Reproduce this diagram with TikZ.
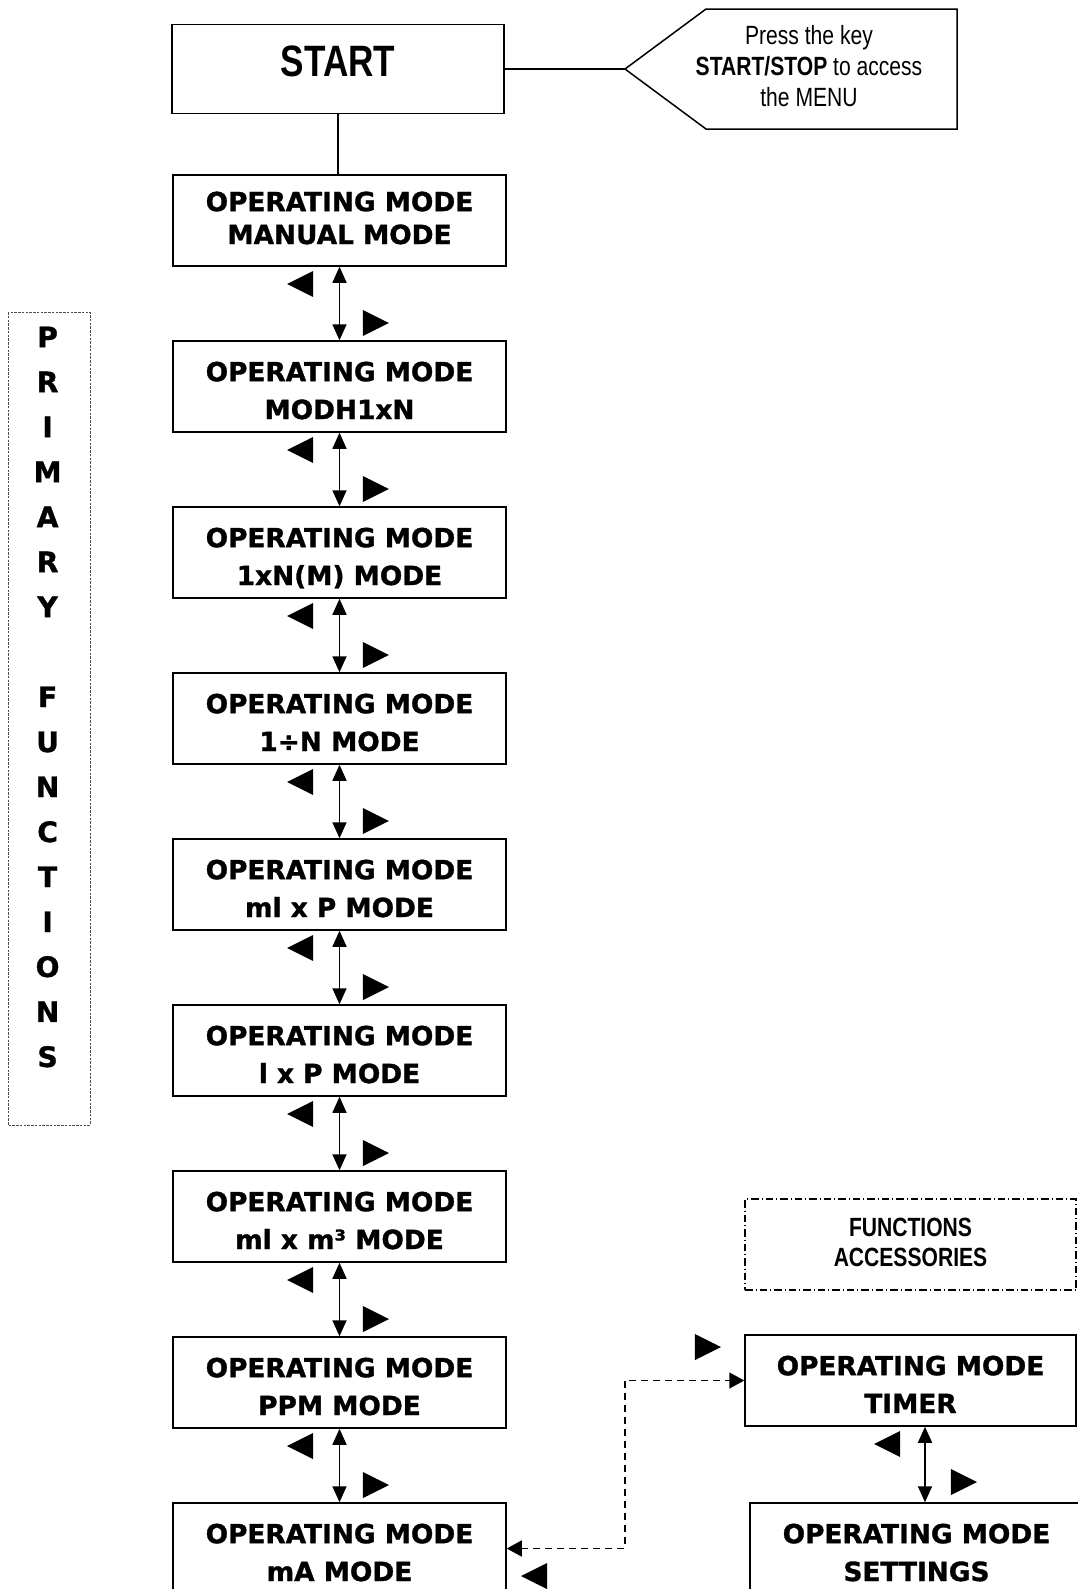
\documentclass[tikz,border=0pt]{standalone}
\usepackage{fontspec}
\usetikzlibrary{shapes.geometric, arrows.meta}

\newfontfamily\blackfont[FakeBold=1.2]{DejaVu Sans}
\newfontfamily\narrowfont[FakeStretch=0.8]{Liberation Sans}

\tikzset{
  modebox/.style={draw, line width=0.3mm, minimum width=66.6mm, minimum height=18.2mm,
    inner sep=0, align=center, text height=13mm, text depth=0mm,
    font=\blackfont\bfseries\fontsize{15}{21.5}\selectfont},
  startbox/.style={draw, line width=0.3mm, minimum width=66.4mm, minimum height=17.8mm,
    inner sep=0, text depth=3.2mm, font=\narrowfont\bfseries\fontsize{25}{30}\selectfont},
  accbox/.style={draw, line width=0.3mm, dash pattern=on 1.5mm off 0.6mm on 0.2mm off 0.6mm,
    minimum width=66.2mm, minimum height=18.2mm, inner sep=0, align=center, text depth=1mm,
    font=\narrowfont\bfseries\fontsize{15}{17.2}\selectfont},
  hinttext/.style={align=center, inner sep=0, font=\narrowfont\fontsize{15}{17.4}\selectfont},
  tri right/.style={isosceles triangle, isosceles triangle stretches, fill=black, draw=none,
    inner sep=0, minimum width=5.2mm, minimum height=5.2mm},
  tri left/.style={tri right, shape border rotate=180},
  dblarrow/.style={{Triangle[length=3.2mm, width=2.8mm]}-{Triangle[length=3.2mm, width=2.8mm]},
    line width=0.33mm},
  dashlink/.style={{Triangle[length=3mm, width=3.2mm]}-{Triangle[length=3mm, width=3.2mm]},
    line width=0.3mm, dash pattern=on 1.4mm off 1mm}
}

\begin{document}
\begin{tikzpicture}[x=0.2mm, y=-0.2mm]
  \useasboundingbox (0, 0) rectangle (1078, 1589);
  \clip (0, 0) rectangle (1078, 1589);

  % Start and hint
  \node[startbox] (start) at (338, 69) {START};
  \coordinate (tip) at (625, 69);
  \draw[line width=0.3mm] (tip) -- (706, 9) -- (957, 9) -- (957, 129) -- (706, 129) -- cycle;
  \node[hinttext] (hint) at (809, 66) {Press the key\\\textbf{START/STOP} to access\\the MENU};
  \draw[line width=0.25mm] (start.east) -- (tip);

  % Primary functions
  \draw[line width=0.2mm, black!70, dash pattern=on 0.5mm off 0.25mm] (8, 312) rectangle (90, 1125);
  \node[align=center, inner sep=0, font=\blackfont\bfseries\fontsize{16}{25.6}\selectfont]
    (primary) at (47.6, 697) {P\\R\\I\\M\\A\\R\\Y\\ \\F\\U\\N\\C\\T\\I\\O\\N\\S};

  % Operating modes
  \node[modebox, text height=9.4mm, font=\blackfont\bfseries\fontsize{15}{18.7}\selectfont]
                 (manual)  at (339.5,  220.5) {OPERATING MODE\\MANUAL MODE};
  \node[modebox] (modh)    at (339.5,  386.5) {OPERATING MODE\\MODH1xN};
  \node[modebox] (onexnm)  at (339.5,  552.5) {OPERATING MODE\\1xN(M) MODE};
  \node[modebox] (onedivn) at (339.5,  718.5) {OPERATING MODE\\1÷N MODE};
  \node[modebox] (mlxp)    at (339.5,  884.5) {OPERATING MODE\\ml x P MODE};
  \node[modebox] (lxp)     at (339.5, 1050.5) {OPERATING MODE\\l x P MODE};
  \node[modebox] (mlxm)    at (339.5, 1216.5) {OPERATING MODE\\ml x m³ MODE};
  \node[modebox] (ppm)     at (339.5, 1382.5) {OPERATING MODE\\PPM MODE};
  \node[modebox] (ma)      at (339.5, 1548.5) {OPERATING MODE\\mA MODE};
  \draw[line width=0.25mm] (start.south) -- (start.south |- manual.north);

  % Scrolling between modes
  \draw[dblarrow] (manual.south) -- (modh.north);
  \node[tri left]  (l1) at (305,  284) {};
  \node[tri right] (r1) at (371,  323) {};
  \draw[dblarrow] (modh.south) -- (onexnm.north);
  \node[tri left]  (l2) at (305,  450) {};
  \node[tri right] (r2) at (371,  489) {};
  \draw[dblarrow] (onexnm.south) -- (onedivn.north);
  \node[tri left]  (l3) at (305,  616) {};
  \node[tri right] (r3) at (371,  655) {};
  \draw[dblarrow] (onedivn.south) -- (mlxp.north);
  \node[tri left]  (l4) at (305,  782) {};
  \node[tri right] (r4) at (371,  821) {};
  \draw[dblarrow] (mlxp.south) -- (lxp.north);
  \node[tri left]  (l5) at (305,  948) {};
  \node[tri right] (r5) at (371,  987) {};
  \draw[dblarrow] (lxp.south) -- (mlxm.north);
  \node[tri left]  (l6) at (305, 1114) {};
  \node[tri right] (r6) at (371, 1153) {};
  \draw[dblarrow] (mlxm.south) -- (ppm.north);
  \node[tri left]  (l7) at (305, 1280) {};
  \node[tri right] (r7) at (371, 1319) {};
  \draw[dblarrow] (ppm.south) -- (ma.north);
  \node[tri left]  (l8) at (305, 1446) {};
  \node[tri right] (r8) at (371, 1485) {};

  % Accessory functions
  \node[accbox] (acc) at (910.5, 1244.5) {FUNCTIONS\\ACCESSORIES};
  \node[modebox, minimum width=66.2mm] (timer) at (910.5, 1380.5) {OPERATING MODE\\TIMER};
  \node[modebox] (settings) at (916.5, 1548.5) {OPERATING MODE\\SETTINGS};
  \draw[dblarrow] ([xshift=2.9mm]timer.south) -- ([xshift=1.7mm]settings.north);
  \node[tri left]  (l9) at (892, 1444) {};
  \node[tri right] (r9) at (959, 1482) {};

  % Link mA mode <-> timer
  \coordinate (bend) at (625, 1548.5);
  \draw[dashlink] (ma.east) -- (bend) |- (timer.west);
  \node[tri right] (r10) at (703, 1347) {};
  \node[tri left]  (l10) at (539, 1576) {};
\end{tikzpicture}
\end{document}
